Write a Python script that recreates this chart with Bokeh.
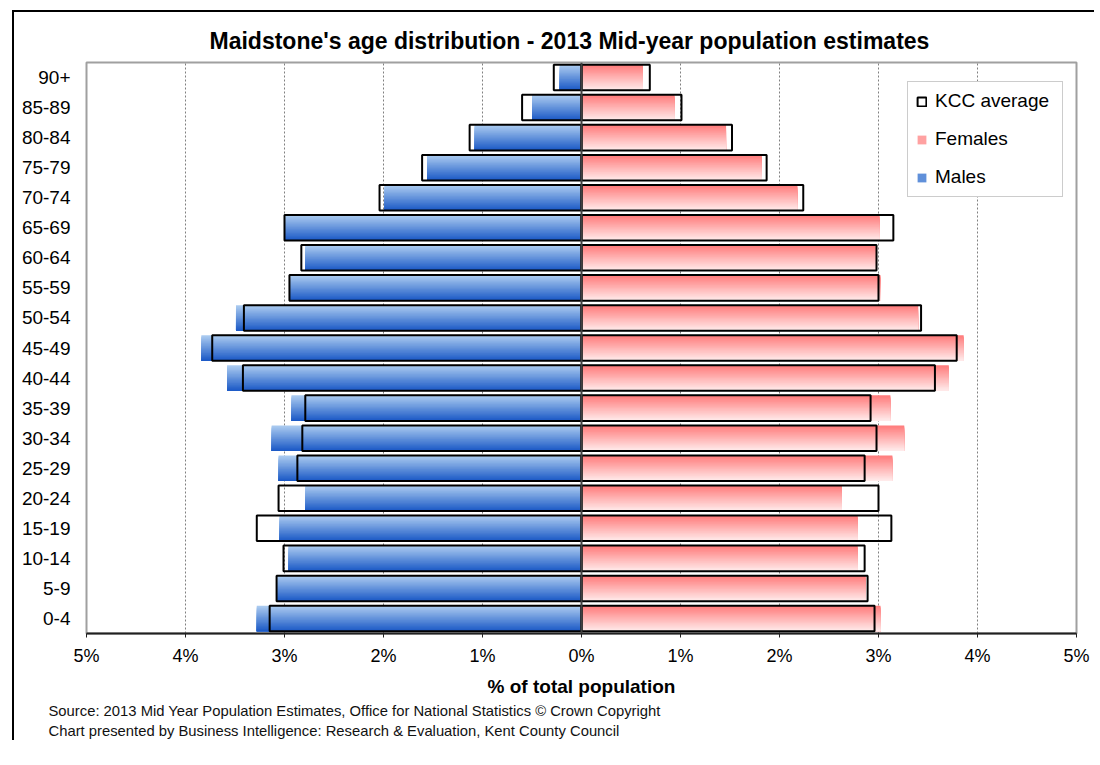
from bokeh.plotting import figure
from bokeh.models import (FactorRange, Range1d, FixedTicker, CustomJSTickFormatter, Span,
                          Legend, LegendItem, ColumnDataSource, Title)
from bokeh.transform import dodge
from bokeh.embed import file_html
from bokeh.resources import INLINE

# ---------------- data (bottom to top) ----------------
ages = ["0-4", "5-9", "10-14", "15-19", "20-24", "25-29", "30-34", "35-39", "40-44",
        "45-49", "50-54", "55-59", "60-64", "65-69", "70-74", "75-79", "80-84", "85-89", "90+"]
males = [3.28, 3.07, 2.96, 3.05, 2.79, 3.06, 3.13, 2.93, 3.58, 3.84, 3.49, 2.94, 2.79,
         2.99, 1.99, 1.56, 1.08, 0.50, 0.22]
females = [3.02, 2.87, 2.79, 2.79, 2.63, 3.14, 3.26, 3.12, 3.71, 3.86, 3.40, 3.02, 2.97,
           3.01, 2.18, 1.82, 1.46, 0.94, 0.62]
kcc_males = [3.15, 3.08, 3.01, 3.28, 3.06, 2.87, 2.82, 2.79, 3.42, 3.73, 3.41, 2.95, 2.83,
             3.00, 2.04, 1.61, 1.13, 0.60, 0.28]
kcc_females = [2.96, 2.89, 2.86, 3.13, 3.00, 2.86, 2.98, 2.92, 3.57, 3.79, 3.43, 3.00, 2.98,
               3.15, 2.24, 1.87, 1.52, 1.01, 0.69]
x_ticks = [-5, -4, -3, -2, -1, 0, 1, 2, 3, 4, 5]

title_text = "Maidstone's age distribution  - 2013 Mid-year population estimates"
x_title = "% of total population"
source_lines = ["Source:  2013 Mid Year Population Estimates,  Office for National Statistics \u00a9 Crown Copyright",
                "Chart presented by Business Intelligence: Research & Evaluation,  Kent County Council"]

src = ColumnDataSource(dict(
    age=ages,
    m_left=[-v for v in males], f_right=females,
    km_left=[-v for v in kcc_males], kf_right=kcc_females,
    zero=[0] * len(ages),
))

FONT = "Liberation Sans"
W, H = 1082, 730
p = figure(width=W, height=H, output_backend="svg", toolbar_location=None,
           y_range=FactorRange(factors=ages, range_padding=0),
           x_range=Range1d(-5, 5),
           min_border_left=72, min_border_right=20, min_border_top=50, min_border_bottom=109,
           background_fill_color="white", border_fill_color="white")
p.margin = (10, 0, 0, 12)
p.styles = {"border-left": "2px solid black", "border-top": "2px solid black"}
p.outline_line_color = "#a0a0a0"
p.outline_line_width = 2

# title
p.title.text = title_text
p.title.align = "left"
p.title.offset = 123
p.title.text_font = FONT
p.title.text_font_size = "23px"
p.title.text_font_style = "bold"
p.title.text_color = "black"
p.title.standoff = 17

# grid
p.ygrid.grid_line_color = None
p.xgrid.grid_line_color = "#808080"
p.xgrid.grid_line_dash = "2 2"
p.xgrid.grid_line_width = 1
p.xaxis.ticker = FixedTicker(ticks=x_ticks)
p.xgrid.ticker = FixedTicker(ticks=x_ticks)

# axes
p.xaxis.formatter = CustomJSTickFormatter(code="return Math.abs(tick) + '%';")
p.xaxis.axis_line_color = "#202020"
p.xaxis.axis_line_width = 2
p.xaxis.major_tick_out = 4
p.xaxis.major_tick_in = 0
p.xaxis.major_tick_line_color = "#202020"
p.xaxis.minor_tick_line_color = None
p.xaxis.major_label_text_font = FONT
p.xaxis.major_label_text_font_size = "18px"
p.xaxis.major_label_text_color = "black"
p.xaxis.major_label_standoff = 8
p.xaxis.axis_label = x_title
p.xaxis.axis_label_text_font = FONT
p.xaxis.axis_label_text_font_size = "19px"
p.xaxis.axis_label_text_font_style = "bold"
p.xaxis.axis_label_text_color = "black"
p.xaxis.axis_label_standoff = 7

p.yaxis.axis_line_color = None
p.yaxis.major_tick_line_color = None
p.yaxis.minor_tick_line_color = None
p.yaxis.major_tick_out = 0
p.yaxis.major_label_standoff = 16
p.yaxis.major_label_text_font = FONT
p.yaxis.major_label_text_font_size = "19px"
p.yaxis.major_label_text_color = "black"

# source notes below the chart
for i, line in enumerate(source_lines):
    p.add_layout(Title(text=line, align="left", offset=-38, standoff=3 if i == 0 else 0,
                       text_font=FONT, text_font_size="14.8px", text_font_style="normal",
                       text_color="#111111"), "below")

# gradient bars: overlapping strips, each running from its top to the bar bottom
BAR_H = 0.85
N = 22

def lerp(c1, c2, t):
    return "#%02x%02x%02x" % tuple(int(round(a + (b - a) * t)) for a, b in zip(c1, c2))

m_top, m_bot = (0xab, 0xcb, 0xf0), (0x1c, 0x5a, 0xc6)
f_top, f_bot = (0xff, 0x7c, 0x7c), (0xff, 0xea, 0xea)
sh = BAR_H / N
m_rends, f_rends = [], []
for k in range(N):
    h = BAR_H - k * sh
    off = -k * sh / 2
    t = k / (N - 1)
    rm = p.hbar(y=dodge("age", off, range=p.y_range), left="m_left", right="zero",
                height=h, fill_color=lerp(m_top, m_bot, t), line_color=None, source=src)
    rf = p.hbar(y=dodge("age", off, range=p.y_range), left="zero", right="f_right",
                height=h, fill_color=lerp(f_top, f_bot, t), line_color=None, source=src)
    m_rends.append(rm)
    f_rends.append(rf)

# KCC outlines
r_kcc = p.hbar(y="age", left="km_left", right="zero", height=BAR_H, fill_alpha=0,
               line_color="black", line_width=2, source=src)
p.hbar(y="age", left="zero", right="kf_right", height=BAR_H, fill_alpha=0,
       line_color="black", line_width=2, source=src)

p.add_layout(Span(location=0, dimension="height", line_color="#404040", line_width=2))

legend = Legend(items=[LegendItem(label="KCC average", renderers=[r_kcc]),
                       LegendItem(label="Females", renderers=[f_rends[N // 3]]),
                       LegendItem(label="Males", renderers=[m_rends[N // 2]])],
                location=(821, 436), orientation="vertical",
                label_text_font=FONT, label_text_font_size="19px", label_text_color="black",
                glyph_width=11, glyph_height=11, label_height=20, label_width=119,
                label_standoff=8, spacing=16, padding=8, margin=0,
                border_line_color="#999999", border_line_width=1,
                background_fill_color="white", background_fill_alpha=1)
p.add_layout(legend)

open("out.html", "w").write(file_html(p, INLINE))
